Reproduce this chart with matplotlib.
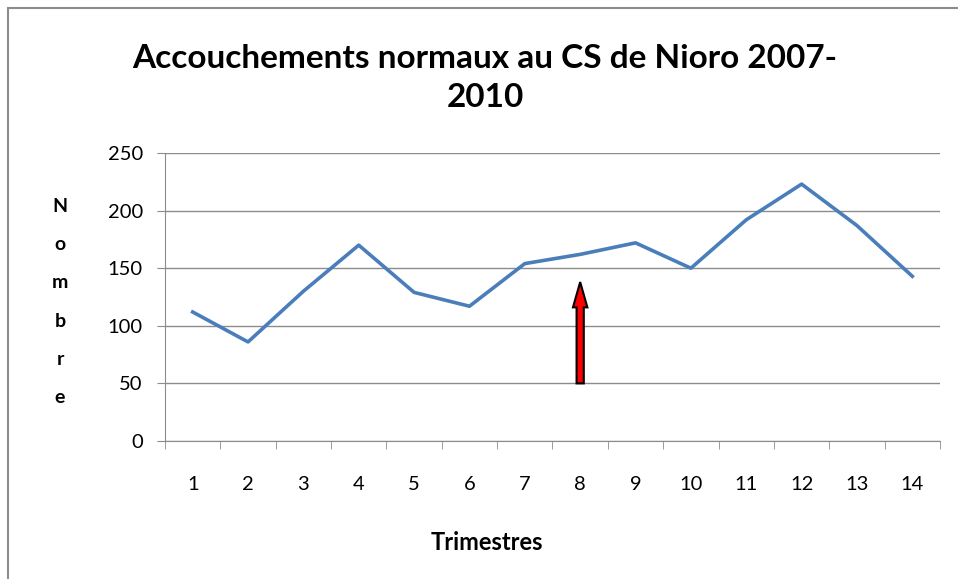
import matplotlib.pyplot as plt
from matplotlib.patches import Rectangle, FancyArrow

plt.rcParams['font.family'] = ['Lato', 'DejaVu Sans']

# donnees: accouchements normaux par trimestre
trimestres = list(range(1, 15))
nombre = [112, 86, 130, 170, 129, 117, 154, 162, 172, 150, 192, 223, 187, 143]
yticks = [0, 50, 100, 150, 200, 250]

# fleche (trimestre 8)
arrow_x = 8
arrow_y0 = 50
arrow_y1 = 138

fig = plt.figure(figsize=(9.58, 5.79), dpi=100)
# cadre du graphique
fig.patches.append(Rectangle((8 / 958, -0.01), 1.1, 1 - 8 / 579 + 0.01, transform=fig.transFigure,
                             fill=False, edgecolor='#8c8c8c', linewidth=1.5))

ax = fig.add_axes([165 / 958, 1 - 441 / 579, 775 / 958, 288 / 579])
ax.plot(trimestres, nombre, color='#4a7ebb', linewidth=2.6, solid_joinstyle='round', zorder=3)

ax.set_xlim(0.5, 14.5)
ax.set_ylim(0, 250)
ax.set_yticks(yticks)
ax.set_xticks(trimestres)
ax.set_xticks([i + 0.5 for i in range(0, 15)], minor=True)
ax.grid(axis='y', color='#8c8c8c', linewidth=1)
ax.set_axisbelow(True)
for s in ['top', 'right']:
    ax.spines[s].set_visible(False)
for s in ['left', 'bottom']:
    ax.spines[s].set_color('#8c8c8c')
ax.tick_params(axis='y', which='major', length=6, color='#8c8c8c', pad=10, labelsize=14.5)
ax.tick_params(axis='x', which='major', length=0, pad=25, labelsize=14.5)
ax.tick_params(axis='x', which='minor', length=6, color='#8c8c8c')

ax.add_patch(FancyArrow(arrow_x, arrow_y0, 0, arrow_y1 - arrow_y0, width=0.13, head_width=0.26,
                        head_length=22, length_includes_head=True, facecolor='#ff0000',
                        edgecolor='black', linewidth=1.5, zorder=4))

fig.text(485 / 958, 1 - 78 / 579, 'Accouchements normaux au CS de Nioro 2007-\n2010',
         ha='center', va='center', fontsize=24, fontweight='bold', linespacing=1.42)
fig.text(60 / 958, 1 - 302 / 579, '\n'.join('Nombre'), ha='center', va='center',
         fontsize=14, fontweight='bold', linespacing=2.52)
fig.text(487 / 958, 1 - 543 / 579, 'Trimestres', ha='center', va='center',
         fontsize=17, fontweight='bold')

fig.savefig('out.png', dpi=100)
